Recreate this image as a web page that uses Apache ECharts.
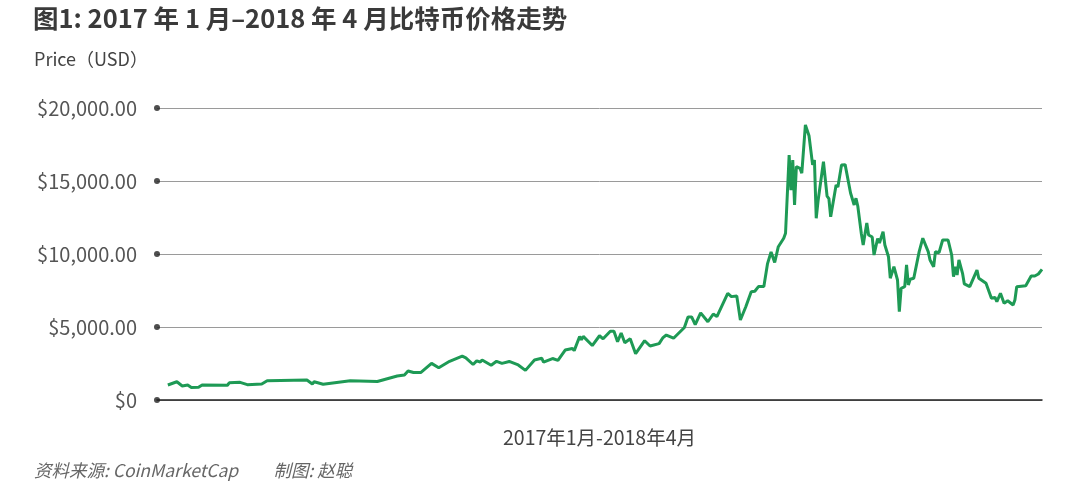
<!DOCTYPE html>
<html>
<head>
<meta charset="utf-8">
<script src="https://cdn.jsdelivr.net/npm/echarts@6/dist/echarts.min.js"></script>
<style>
html,body{margin:0;padding:0;background:#fff;}
#chart{width:1080px;height:485px;}
</style>
</head>
<body>
<div id="chart"></div>
<script>
// Days since 2017-01-01
const days = [0,5,8,11,13,17,19,33,34,40,44,52,55,77,80,81,86,101,116,123,127,131,133,136,140,146,150,156,163,165,169,171,173,174,179,182,185,189,194,198,203,207,208,213,216,220,224,225,228,229,230,235,239,241,245,247,249,251,253,256,259,264,267,272,274,276,280,286,288,290,292,295,299,302,304,310,312,315,317,320,323,325,327,330,332,334,336,338,341,342,344,345,346,347,348,350,351,353,355,356,357,358,359,360,361,363,365,366,367,370,371,373,375,378,380,381,382,384,385,387,388,390,391,393,394,396,397,399,400,402,404,405,406,408,409,410,411,413,416,418,419,421,422,424,425,427,429,432,434,435,436,437,438,440,441,444,448,449,453,456,458,459,461,463,465,468,469,470,475,478,480,482,484];
// Bitcoin price, USD
const prices = [1030,1250,960,1030,860,870,1030,1010,1180,1210,1050,1100,1320,1370,1100,1250,1080,1320,1270,1510,1640,1710,1990,1880,1880,2510,2210,2650,3010,2890,2430,2680,2600,2740,2380,2650,2510,2640,2400,2030,2740,2860,2590,2840,2710,3420,3530,3380,4350,4130,4360,3730,4400,4190,4710,4710,3990,4590,3920,4190,3170,4060,3700,3860,4250,4450,4230,4970,5690,5690,5170,5970,5360,5890,5710,7310,7080,7120,5480,6390,7420,7450,7770,7770,9320,10140,9420,10500,11080,11420,16780,14380,16440,13360,15980,15870,15530,18840,18100,18030,16100,16440,12450,13630,13530,16320,13970,13800,12550,14730,14590,16100,16120,14180,13360,13820,13290,11370,10620,12120,11300,11160,9930,11060,10750,11530,10620,9810,8340,9130,8220,6050,7650,7760,9250,7880,8270,8340,10160,11080,10960,10160,9590,9130,10160,10090,10960,10960,9930,8450,9130,8560,9590,8680,7950,7760,8900,8340,7990,6970,7030,6730,7310,6620,6800,6510,6850,7760,7830,8490,8490,8630,8950];
const yTicks = [0,5000,10000,15000,20000];
const titleText = '图1: 2017 年 1 月–2018 年 4 月比特币价格走势';
const unitText = 'Price（USD）';
const xName = '2017年1月-2018年4月';
const footText = '资料来源: CoinMarketCap         制图: 赵聪';

const font = '"Noto Sans CJK SC","Noto Sans",sans-serif';
const chart = echarts.init(document.getElementById('chart'));
const X_MIN = -6, X_MAX = 484;

function fmt(v){
  if (v === 0) return '$0';
  return '$' + v.toLocaleString('en-US',{minimumFractionDigits:2,maximumFractionDigits:2});
}

chart.setOption({
  animation:false,
  backgroundColor:'#fff',
  title:[
    {text:titleText,left:28,top:1,textStyle:{fontFamily:font,fontSize:25.5,fontWeight:'bold',color:'#3a3a3a'}},
    {text:unitText,left:29,top:45,textStyle:{fontFamily:font,fontSize:18,fontWeight:'normal',color:'#444'}},
    {text:footText,left:29,top:457,textStyle:{fontFamily:font,fontSize:17.5,fontWeight:'normal',fontStyle:'italic',color:'#666'}}
  ],
  grid:{left:157,right:38,top:108,bottom:85,containLabel:false},
  xAxis:{
    type:'value',min:X_MIN,max:X_MAX,
    name:xName,nameLocation:'middle',nameGap:28,
    nameTextStyle:{fontFamily:font,fontSize:19.5,color:'#444'},
    axisLine:{show:true,onZero:false,lineStyle:{color:'#222',width:1.5}},
    axisTick:{show:false},axisLabel:{show:false},splitLine:{show:false}
  },
  yAxis:{
    type:'value',min:0,max:20000,interval:5000,
    axisLine:{show:false},axisTick:{show:false},
    axisLabel:{formatter:fmt,margin:20,fontFamily:font,fontSize:20,color:'#555'},
    splitLine:{show:true,lineStyle:{color:'#9a9a9a',width:1}}
  },
  series:[
    {
      type:'line',
      data:days.map((d,i)=>[d,prices[i]]),
      showSymbol:false,symbol:'none',
      lineStyle:{color:'#1e9a55',width:3},
      z:3
    },
    {
      type:'scatter',
      data:yTicks.map(v=>[X_MIN,v]),
      symbolSize:6,
      itemStyle:{color:'#222'},
      clip:false,silent:true,z:4
    }
  ]
});
</script>
</body>
</html>
